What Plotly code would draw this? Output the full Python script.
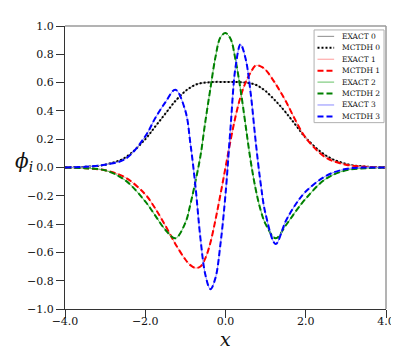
import plotly.graph_objects as go

# grid points
x = [-4.0, -3.5, -3.0, -2.5, -2.0, -1.75, -1.5, -1.25, -1.0, -0.875, -0.75, -0.625,
     -0.5, -0.375, -0.25, -0.125, 0.0, 0.125, 0.25, 0.375, 0.5, 0.625, 0.75, 0.875,
     1.0, 1.25, 1.5, 1.75, 2.0, 2.5, 3.0, 3.5, 4.0]

phi0 = [0.0, 0.005, 0.02, 0.07, 0.2, 0.29, 0.38, 0.47, 0.54, 0.565, 0.585, 0.595,
        0.6, 0.603, 0.605, 0.605, 0.605, 0.605, 0.605, 0.603, 0.6, 0.595, 0.585, 0.565,
        0.54, 0.47, 0.39, 0.30, 0.21, 0.085, 0.025, 0.006, 0.0]
phi1 = [0.0, -0.005, -0.02, -0.07, -0.19, -0.29, -0.41, -0.54, -0.65, -0.69, -0.71, -0.70,
        -0.64, -0.53, -0.37, -0.19, 0.0, 0.19, 0.36, 0.50, 0.60, 0.67, 0.72, 0.715,
        0.69, 0.59, 0.47, 0.33, 0.21, 0.07, 0.02, 0.005, 0.0]
phi2 = [0.0, -0.005, -0.02, -0.09, -0.24, -0.34, -0.44, -0.50, -0.39, -0.26, -0.10, 0.08,
        0.33, 0.56, 0.78, 0.92, 0.95, 0.91, 0.76, 0.55, 0.30, 0.05, -0.15, -0.30,
        -0.40, -0.50, -0.41, -0.31, -0.22, -0.08, -0.02, -0.005, 0.0]
phi3 = [0.0, 0.005, 0.02, 0.06, 0.22, 0.35, 0.46, 0.55, 0.40, 0.17, -0.13, -0.50,
        -0.76, -0.86, -0.78, -0.54, -0.19, 0.28, 0.71, 0.87, 0.77, 0.53, 0.19, -0.11,
        -0.33, -0.54, -0.38, -0.26, -0.17, -0.06, -0.01, 0.0, 0.0]

states = [phi0, phi1, phi2, phi3]
labels = ['0', '1', '2', '3']

exact_colors = ['#8c8c8c', '#ff9a9a', '#66c266', '#8a8aff']
mctdh_colors = ['#000000', '#ff0000', '#008000', '#0000ff']
mctdh_dash = ['2px,2px', '6px,3px', '6px,3px', '6px,3px']

FONT = 'DejaVu Serif'

fig = go.Figure()
for i, phi in enumerate(states):
    fig.add_trace(go.Scatter(x=x, y=phi, mode='lines', name='EXACT ' + labels[i],
                             line=dict(color=exact_colors[i], width=1, shape='spline'),
                             showlegend=False))
    fig.add_trace(go.Scatter(x=x, y=phi, mode='lines', name='MCTDH ' + labels[i],
                             line=dict(color=mctdh_colors[i], width=2, shape='spline',
                                       dash=mctdh_dash[i]),
                             showlegend=False))

# pixel -> paper helpers (plot area 57..385 x 14..301)
L, R, T, B = 57, 385, 14, 301
def px(v):
    return (v - L) / (R - L)
def py(v):
    return (B - v) / (B - T)

shapes = [
    dict(type='line', xref='paper', yref='paper', x0=0, x1=1, y0=1, y1=1,
         line=dict(color='#9a9a9a', width=1.5)),
    dict(type='line', xref='paper', yref='paper', x0=1, x1=1, y0=0, y1=1,
         line=dict(color='#9a9a9a', width=1.5)),
    dict(type='rect', xref='paper', yref='paper', x0=px(311.5), x1=px(383), y0=py(112),
         y1=py(18), line=dict(color='#b0b0b0', width=1), fillcolor='white', layer='above'),
]
annotations = []
y0 = 24.5
for k in range(8):
    i = k // 2
    yc = y0 + k * 11.6
    if k % 2 == 0:
        name, col, w, dash = 'EXACT ' + labels[i], exact_colors[i], 1, 'solid'
    else:
        name, col, w, dash = 'MCTDH ' + labels[i], mctdh_colors[i], 2, mctdh_dash[i]
    shapes.append(dict(type='line', xref='paper', yref='paper', x0=px(315), x1=px(332),
                       y0=py(yc), y1=py(yc), line=dict(color=col, width=w, dash=dash),
                       layer='above'))
    annotations.append(dict(text=name, xref='paper', yref='paper', x=px(338.5), y=py(yc),
                            xanchor='left', yanchor='middle', showarrow=False,
                            font=dict(family=FONT, size=7.5, color='#111')))

annotations.append(dict(text='<i>ϕ</i><sub><i>i</i></sub>', xref='paper', yref='paper',
                        x=px(26), y=py(152), xanchor='right', yanchor='middle',
                        showarrow=False, font=dict(family=FONT, size=20, color='#111')))
annotations.append(dict(text='<i>x</i>', xref='paper', yref='paper',
                        x=px(221), y=py(331), xanchor='center', yanchor='middle',
                        showarrow=False, font=dict(family=FONT, size=19, color='#111')))

fig.update_layout(
    width=399, height=351,
    margin=dict(l=57, r=14, t=14, b=50),
    paper_bgcolor='white', plot_bgcolor='white',
    font=dict(family=FONT, size=11, color='#111'),
    xaxis=dict(range=[-4, 4], tickvals=[-4, -2, 0, 2, 4], tickformat='.1f',
               showline=True, linecolor='#333', linewidth=1, ticks='outside',
               ticklen=8, tickcolor='#333', showgrid=False, zeroline=False,
               ticklabelstandoff=-6),
    yaxis=dict(range=[-1, 1], dtick=0.2, tick0=-1, tickformat='.1f',
               showline=True, linecolor='#333', linewidth=1, ticks='outside',
               ticklen=8, tickcolor='#333', showgrid=False, zeroline=False),
    shapes=shapes,
    annotations=annotations,
    showlegend=False,
)

fig.write_html("out.html")
